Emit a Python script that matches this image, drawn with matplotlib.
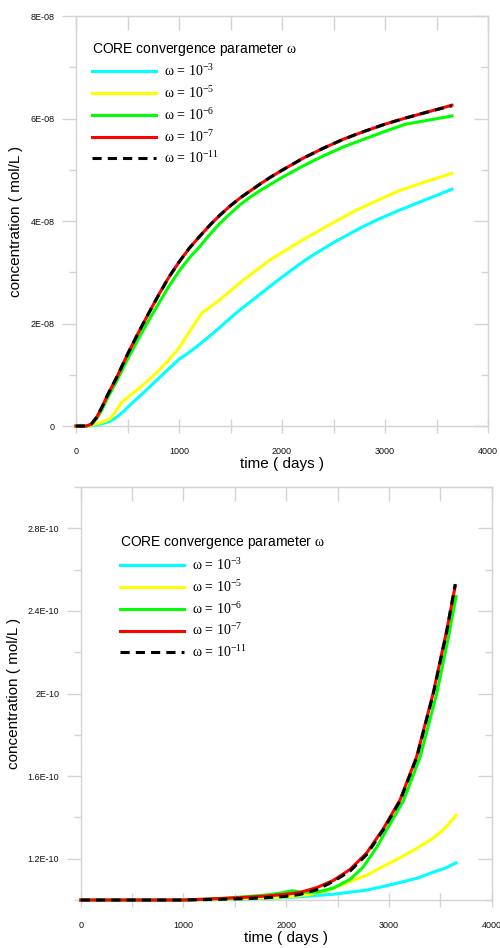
import matplotlib
matplotlib.use('Agg')
import matplotlib.pyplot as plt
from matplotlib.ticker import MultipleLocator, FixedLocator, FuncFormatter

plt.rcParams['font.family'] = ['Liberation Sans', 'DejaVu Sans']
plt.rcParams['mathtext.fontset'] = 'custom'
plt.rcParams['mathtext.rm'] = 'Liberation Serif'
plt.rcParams['mathtext.it'] = 'Liberation Serif:italic'

# ---- data, top panel (concentration in 1E-08 mol/L) ----
t_top = [0, 100, 150, 200, 250, 300, 400, 500, 600, 700, 800, 900, 1000, 1100, 1200,
         1300, 1400, 1500, 1600, 1700, 1800, 1900, 2000, 2200, 2400, 2600, 2800, 3000,
         3200, 3400, 3650]
top_w11 = [0, 0, 0.04, 0.17, 0.36, 0.58, 0.97, 1.4, 1.8, 2.18, 2.55, 2.9, 3.2, 3.47, 3.7,
           3.92, 4.12, 4.3, 4.46, 4.6, 4.74, 4.87, 4.99, 5.22, 5.42, 5.6, 5.75, 5.89,
           6.01, 6.12, 6.25]
top_w7 = [0, 0, 0.04, 0.17, 0.36, 0.58, 0.97, 1.4, 1.8, 2.18, 2.55, 2.9, 3.2, 3.47, 3.7,
          3.92, 4.12, 4.3, 4.46, 4.6, 4.74, 4.87, 4.99, 5.22, 5.42, 5.6, 5.75, 5.89,
          6.01, 6.12, 6.26]
top_w6 = [0, 0, 0.03, 0.14, 0.31, 0.52, 0.9, 1.3, 1.68, 2.04, 2.38, 2.72, 3.02, 3.28, 3.5,
          3.74, 3.96, 4.15, 4.33, 4.48, 4.61, 4.73, 4.85, 5.07, 5.27, 5.45, 5.6, 5.75,
          5.89, 5.96, 6.05]
t_top_w5 = [0, 130, 170, 250, 330, 380, 443, 540, 650, 750, 870, 993, 1107, 1220, 1400,
            1624, 1883, 2150, 2400, 2700, 3000, 3150, 3400, 3650]
top_w5 = [0, 0, 0.03, 0.07, 0.14, 0.27, 0.46, 0.62, 0.8, 0.98, 1.22, 1.5, 1.86, 2.2, 2.47,
          2.85, 3.24, 3.57, 3.86, 4.19, 4.47, 4.6, 4.77, 4.93]
t_top_w3 = [0, 120, 200, 260, 330, 400, 470, 540, 650, 750, 870, 993, 1100, 1204, 1366,
            1550, 1754, 1950, 2158, 2272, 2500, 2757, 2919, 3150, 3400, 3650]
top_w3 = [0, 0, 0.02, 0.05, 0.09, 0.18, 0.3, 0.44, 0.64, 0.83, 1.06, 1.29, 1.44, 1.6, 1.87,
          2.2, 2.52, 2.83, 3.14, 3.3, 3.58, 3.86, 4.02, 4.22, 4.42, 4.62]

# ---- data, bottom panel (concentration in 1E-10 mol/L) ----
t_bot = [0, 500, 1000, 1200, 1400, 1600, 1800, 2000, 2134, 2297, 2459, 2621, 2783, 2945,
         3108, 3270, 3432, 3562, 3645]
bot_w11 = [1.0, 1.0, 1.0, 1.002, 1.004, 1.007, 1.011, 1.018, 1.027, 1.05, 1.09, 1.14, 1.22,
           1.34, 1.48, 1.69, 2.0, 2.3, 2.53]
bot_w7 = [1.0, 1.0, 1.0, 1.004, 1.008, 1.013, 1.019, 1.028, 1.037, 1.06, 1.095, 1.148,
          1.228, 1.345, 1.485, 1.695, 2.005, 2.305, 2.52]
t_bot_w6 = [0, 500, 1000, 1200, 1400, 1600, 1800, 1950, 2060, 2150, 2297, 2459, 2621,
            2750, 2880, 2978, 3140, 3302, 3465, 3578, 3653]
bot_w6 = [1.0, 1.0, 1.0, 1.004, 1.009, 1.016, 1.024, 1.034, 1.045, 1.038, 1.038, 1.058,
          1.1, 1.16, 1.255, 1.34, 1.48, 1.69, 2.0, 2.27, 2.47]
t_bot_w5 = [0, 500, 1000, 1500, 2000, 2200, 2400, 2621, 2783, 2913, 3108, 3270, 3432,
            3550, 3653]
bot_w5 = [1.0, 1.0, 1.0, 1.005, 1.015, 1.025, 1.045, 1.09, 1.12, 1.155, 1.205, 1.25, 1.3,
          1.35, 1.41]
t_bot_w3 = [0, 500, 1000, 1500, 2000, 2134, 2459, 2783, 2913, 3108, 3270, 3432, 3550, 3653]
bot_w3 = [1.0, 1.0, 1.0, 1.003, 1.012, 1.016, 1.028, 1.048, 1.062, 1.085, 1.105, 1.135,
          1.155, 1.18]

labels = ['$\\mathrm{ω\\,=\\,10^{-3}}$', '$\\mathrm{ω\\,=\\,10^{-5}}$',
          '$\\mathrm{ω\\,=\\,10^{-6}}$', '$\\mathrm{ω\\,=\\,10^{-7}}$',
          '$\\mathrm{ω\\,=\\,10^{-11}}$']
legend_title = 'CORE convergence parameter $\\mathrm{ω}$'

GRID = '#d4d4d4'
TXT = '#111111'


def sci_label(v, pos):
    if abs(v) < 1e-20:
        return '0'
    m, e = f'{v:.1E}'.split('E')
    return f'{float(m):g}E{e}'


def style_axes(ax, ymaj, ymin):
    for sp in ax.spines.values():
        sp.set_color(GRID)
        sp.set_linewidth(1.0)
    ax.set_xlim(0, 4000)
    ax.xaxis.set_major_locator(MultipleLocator(1000))
    ax.xaxis.set_minor_locator(MultipleLocator(500))
    ax.yaxis.set_major_locator(FixedLocator(ymaj))
    ax.yaxis.set_minor_locator(FixedLocator(ymin))
    ax.yaxis.set_major_formatter(FuncFormatter(sci_label))
    ax.tick_params(axis='x', which='both', direction='inout', length=10, width=1,
                   color=GRID, labelsize=6.5, pad=10, labelcolor=TXT)
    ax.tick_params(axis='y', which='major', direction='out', length=10, width=1,
                   color=GRID, labelsize=6.5, pad=5.5, labelcolor=TXT)
    ax.tick_params(axis='y', which='minor', direction='out', length=5, width=1, color=GRID)
    top = ax.secondary_xaxis('top')
    top.xaxis.set_major_locator(MultipleLocator(500))
    top.tick_params(direction='in', length=10, width=1, color=GRID, labeltop=False)
    right = ax.secondary_yaxis('right')
    right.yaxis.set_major_locator(FixedLocator(ymaj))
    right.yaxis.set_minor_locator(FixedLocator(ymin))
    right.tick_params(which='major', direction='in', length=10, width=1, color=GRID,
                      labelright=False)
    right.tick_params(which='minor', direction='in', length=5, width=1, color=GRID)
    for sec in (top, right):
        for sp in sec.spines.values():
            sp.set_color(GRID)
    ax.set_xlabel('time ( days )', fontsize=11, labelpad=1)
    ax.set_ylabel('concentration ( mol/L )', fontsize=11, labelpad=5)


def draw(ax, series, scale):
    colors = ['#00ffff', '#ffff00', '#00ff00', '#ff0000', '#000000']
    for i, (t, c) in enumerate(series):
        ls = (0, (3, 2)) if i == 4 else '-'
        ax.plot(t, [v * scale for v in c], color=colors[i], lw=2.2, ls=ls,
                label=labels[i], clip_on=False, zorder=3 + i)


fig = plt.figure(figsize=(5.0, 9.48), dpi=100)

ax1 = fig.add_axes([0.152, 0.5506, 0.824, 0.4325])
draw(ax1, [(t_top_w3, top_w3), (t_top_w5, top_w5), (t_top, top_w6),
           (t_top, top_w7), (t_top, top_w11)], 1e-8)
ax1.set_ylim(0, 8e-8)
style_axes(ax1, [0, 2e-8, 4e-8, 6e-8, 8e-8], [1e-8, 3e-8, 5e-8, 7e-8])
ax1.legend(loc='upper left', bbox_to_anchor=(0.039, 0.94), frameon=False,
           title=legend_title, title_fontsize=10, alignment='left',
           prop={'size': 10}, handlelength=4.6, handletextpad=0.6,
           labelspacing=0.42, borderpad=0, borderaxespad=0)

ax2 = fig.add_axes([0.1614, 0.0506, 0.822, 0.4357])
draw(ax2, [(t_bot_w3, bot_w3), (t_bot_w5, bot_w5), (t_bot_w6, bot_w6),
           (t_bot, bot_w7), (t_bot, bot_w11)], 1e-10)
ax2.set_ylim(1.0e-10, 3.0e-10)
style_axes(ax2, [1.2e-10, 1.6e-10, 2.0e-10, 2.4e-10, 2.8e-10],
           [1.0e-10, 1.4e-10, 1.8e-10, 2.2e-10, 2.6e-10, 3.0e-10])
ax2.legend(loc='upper left', bbox_to_anchor=(0.095, 0.885), frameon=False,
           title=legend_title, title_fontsize=10, alignment='left',
           prop={'size': 10}, handlelength=4.6, handletextpad=0.6,
           labelspacing=0.42, borderpad=0, borderaxespad=0)

fig.savefig('out.png', dpi=100)
